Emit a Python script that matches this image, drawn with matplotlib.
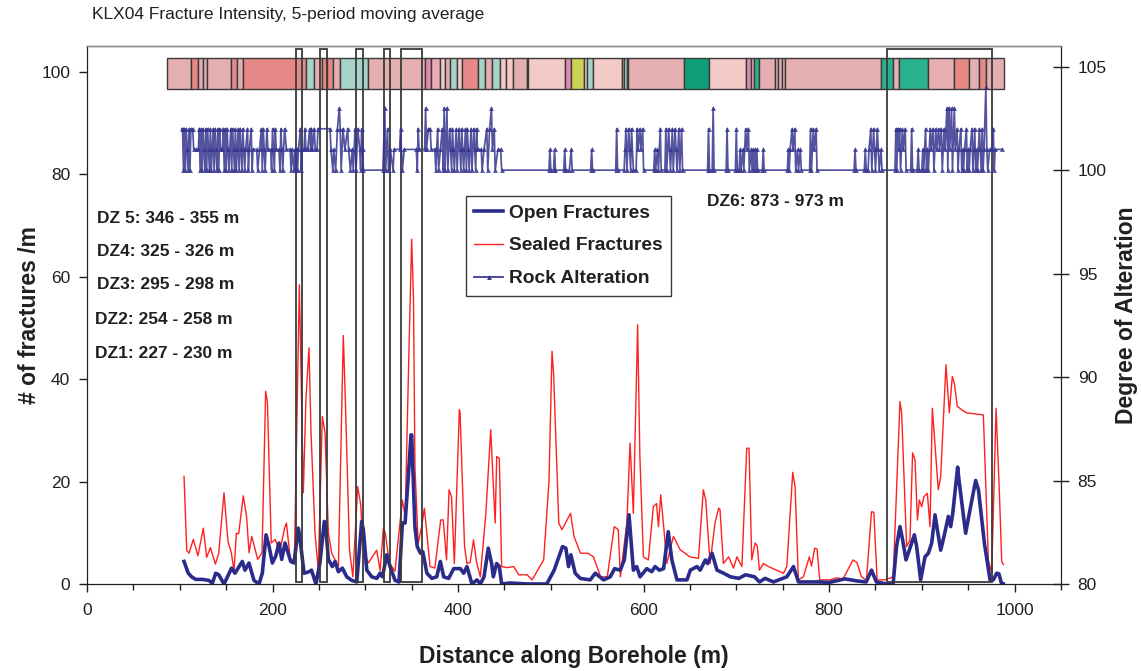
import numpy as np
import matplotlib
matplotlib.use("Agg")
import matplotlib.pyplot as plt
from matplotlib.patches import Rectangle
from matplotlib.lines import Line2D

plt.rcParams['font.family'] = ['Liberation Sans', 'DejaVu Sans']

# ---- data ----
open_depth = [104.6, 109.2, 112.8, 117.1, 124.3, 131.5, 135.1, 138.7, 142, 147.7, 155.9, 159.5, 167.4,
              170.3, 174.6, 180, 185.4, 189, 193, 196.2, 199.8, 203.4, 207, 209.9, 213.5, 216, 219.6,
              223.2, 227.8, 229.5, 234, 239.4, 242, 246.8, 251.1, 255.8, 257, 260.2, 264.5, 267.4, 271,
              275.3, 280, 285.4, 290.8, 296.1, 297.9, 301.6, 307, 312.4, 316, 318.5, 323.1, 326.7, 332.1,
              336.4, 340, 342.9, 346, 349.3, 350, 353.5, 356, 359.6, 362, 366.4, 371.8, 377, 380.9, 384.5,
              389.9, 395.3, 402.5, 406, 409.6, 415, 420.4, 424, 428, 432.6, 436.2, 438, 441.6, 444.5, 447,
              456, 474.1, 495.7, 503.6, 512.6, 516.2, 519.1, 521.6, 526.3, 531.7, 542.5, 547.9, 556.9,
              564.1, 568.8, 574.9, 579.2, 584.3, 589, 592.6, 596.2, 603.4, 608.8, 612.4, 617, 621.6, 626.6,
              630.5, 636, 646.8, 650.4, 657.6, 661, 666.6, 669, 673.8, 679.2, 686.4, 693.6, 702.6, 710,
              719.6, 725, 731, 740, 754.4, 761.6, 767, 790, 800, 817, 830, 840, 845.7, 851, 862, 869,
              872.7, 876.4, 879.3, 882.9, 885.4, 891.9, 894.4, 898.7, 903.4, 907, 910.6, 914.2, 916.7,
              920.3, 923.9, 928.6, 931.1, 933.3, 938.6, 940, 944, 947.2, 951.2, 958, 961, 967.4, 973.5,
              977, 980.7, 983, 986.1, 987.9]
open_frac = [4.4, 2.1, 1.4, 0.9, 0.9, 0.7, 0.1, 2.1, 1.8, 0.0, 3.1, 2.1, 4.4,
             2.7, 4.1, 0.7, 0.0, 2.1, 9.6, 7.4, 4.1, 5.4, 8.0, 4.8, 8.0, 6.5, 4.4,
             4.1, 10.9, 9.0, 2.1, 2.4, 2.7, 0.0, 4.1, 12.2, 12.0, 4.8, 3.4, 4.4, 2.4,
             3.1, 1.4, 0.7, 0.4, 12.2, 10.6, 2.7, 1.4, 1.1, 2.1, 1.4, 5.7, 3.4, 0.7,
             0.4, 11.9, 11.9, 20.0, 29.1, 29.1, 11.2, 7.3, 6.0, 6.3, 2.1, 1.1, 1.4, 4.4, 1.4,
             1.1, 3.0, 3.0, 2.1, 3.4, 0.0, 0.8, 0.0, 1.4, 7.0, 4.0, 1.4, 4.0, 3.4, 0.0,
             0.2, 0.0, 0.0, 2.7, 7.3, 7.0, 3.4, 5.7, 2.1, 1.1, 0.8, 2.1, 0.8,
             1.4, 3.0, 2.7, 4.7, 13.5, 2.7, 3.4, 1.4, 3.0, 2.4, 3.4, 2.7, 3.0, 10.2,
             4.7, 0.8, 0.8, 2.7, 3.4, 2.7, 4.7, 4.0, 6.0, 2.7, 2.1, 1.4, 1.1, 1.8,
             1.4, 0.4, 1.1, 0.4, 1.4, 3.4, 0.4, 0.4, 0.3, 1.0, 0.6, 0.4, 2.7, 0.4, 0.0, 0.0,
             7.3, 11.2, 8.6, 4.7, 6.0, 9.6, 7.3, 0.8, 5.3, 6.0, 8.0, 13.5, 10.6,
             6.6, 9.3, 13.2, 11.2, 13.8, 22.8, 20.3, 14.5, 9.9, 13.8, 20.2, 18.4, 8.0, 0.8,
             0.8, 2.1, 2.0, 0.0, 0.0]

sealed_depth = [104.6, 107.5, 110, 114.6, 119.6, 125.4, 129, 133, 138.4, 142, 147.7, 152, 155.6, 158.5,
                161, 163.5, 168.5, 172, 174.7, 177.6, 184, 188.7, 192.6, 194.5, 198.6, 203, 207.5, 213,
                215, 219.3, 223.6, 228.9, 233.2, 236, 239.3, 241.5, 245.8, 249.3, 253.7, 256.6, 260.2,
                263.8, 271, 276.3, 278.5, 283, 286.6, 291.8, 295, 297.9, 303.3, 312.3, 316, 319.5, 321.5,
                326, 332, 340, 343, 347, 350, 352, 353.5, 357, 360.8, 363.7, 366, 369.8, 375, 381.3, 384,
                387.6, 390.3, 393, 396, 401.4, 402.2, 407, 409.6, 413, 416.7, 420, 424, 430, 435.2, 440,
                441.7, 444.5, 447, 452.5, 460, 465.4, 474.4, 479.8, 492.3, 498, 501.3, 503, 508.6, 512,
                521.3, 525, 532, 540, 546, 553.7, 560.9, 568.4, 572.7, 575, 582, 585.4, 589, 593.6, 596,
                599.8, 605.2, 610.5, 614, 616, 618.5, 622, 625, 632.2, 639.4, 650, 659.2, 664.4, 667,
                671.7, 677, 680.9, 682.4, 686, 691.7, 697, 700.6, 706, 711.2, 713.7, 716.6, 720.2, 722.5,
                724.9, 729.2, 734.6, 742, 750.8, 754.4, 760.8, 763.3, 766.9, 772.3, 778.7, 781, 784.5,
                787, 789.9, 800.7, 808, 815, 825.8, 830, 834.9, 840.3, 845.7, 848.2, 851.8, 860, 869.1,
                876.4, 878.2, 883.6, 887.2, 890, 892.6, 895.2, 897.3, 899.8, 902.3, 905.9, 908.8, 911.3,
                917.7, 920.3, 926, 929.6, 932.8, 935, 938.2, 942.9, 948.3, 966.3, 971.7, 975.3, 980,
                983.6, 986.1, 987.9]
sealed_frac = [21.0, 6.6, 6.0, 8.7, 5.5, 10.9, 5.2, 7.1, 3.9, 6.0, 17.8, 8.3, 6.1, 2.6,
               9.9, 9.8, 17.2, 13.2, 6.1, 9.3, 4.8, 6.1, 37.6, 35.5, 8.0, 8.7, 6.1, 10.9,
               11.9, 4.6, 4.8, 58.4, 17.8, 36.0, 46.1, 29.5, 10.0, 2.7, 32.7, 29.5, 10.0,
               6.0, 3.4, 48.5, 36.0, 6.6, 1.4, 19.0, 15.6, 6.6, 4.1, 6.6, 2.6, 10.9, 10.0,
               4.1, 2.5, 16.4, 13.2, 45.0, 67.3, 55.5, 22.9, 7.9, 11.2, 14.8, 10.6, 3.4, 3.1, 12.5, 12.5,
               4.7, 18.4, 17.0, 4.0, 34.0, 33.4, 7.3, 4.0, 4.2, 8.6, 4.2, 1.4, 13.8, 30.1, 11.9,
               24.9, 24.5, 3.4, 3.2, 3.4, 1.8, 1.8, 0.8, 4.7, 20.0, 45.4, 41.1, 11.9, 10.6,
               13.8, 9.3, 6.0, 6.0, 5.3, 1.4, 1.4, 11.2, 10.6, 1.4, 12.0, 27.5, 13.8, 50.6, 25.0,
               5.3, 4.7, 15.1, 15.7, 11.2, 17.4, 10.6, 4.0, 9.3, 6.7, 5.3, 5.0, 18.4, 16.4,
               4.0, 11.9, 14.8, 14.5, 4.0, 5.3, 3.1, 5.3, 3.4, 26.5, 26.5, 4.7, 8.0, 7.5,
               2.7, 4.0, 3.4, 2.8, 2.1, 3.4, 21.8, 19.0, 0.8, 1.4, 5.3, 3.5, 7.0,
               6.8, 0.8, 0.8, 1.2, 1.0, 4.7, 4.2, 1.4, 0.8, 14.1, 14.0, 0.8, 0.8, 1.4,
               35.6, 33.4, 7.3, 8.6, 25.6, 24.2, 12.5, 16.4, 15.1, 17.1, 17.7, 11.2, 34.3,
               18.4, 21.0, 42.8, 33.4, 40.5, 39.2, 34.7, 34.0, 33.4, 33.0, 4.7, 2.1, 34.3,
               17.7, 4.4, 3.8]

# rock alteration (depth m, degree)
alteration = [
    (102, 102), (103, 102), (104, 100), (105, 102), (106, 100), (107, 102), (108, 101), (109, 100),
    (110, 102), (111, 100), (112, 102), (114, 102), (115, 101), (117, 101), (120, 101),
    (121, 102), (122, 100), (123, 102), (124, 100), (125, 102), (126, 101), (127, 100), (128, 102),
    (129, 100), (130, 102), (131, 101), (132, 100), (133, 102), (134, 100), (135, 101),
    (136, 102), (137, 100), (138, 102), (139, 101), (140, 100), (141, 102), (142, 100), (143, 102),
    (144, 101), (146, 101), (147, 102), (148, 100), (149, 102), (150, 100), (151, 102), (152, 101),
    (153, 100), (155, 102), (156, 100), (157, 102), (158, 101), (159, 100), (160, 102), (161, 100),
    (162, 101), (163, 102), (164, 100), (165, 102), (166, 101), (167, 100), (168, 102), (169, 101),
    (170, 100), (171, 101), (173, 102), (174, 100), (175, 101), (177, 102), (178, 100), (179, 101),
    (183, 101), (184, 100), (186, 101), (188, 102), (189, 100), (190, 102), (191, 101), (192, 100),
    (194, 102), (195, 101), (198, 101), (199, 100), (200, 102), (201, 101), (202, 100), (203, 102),
    (204, 101), (207, 101), (208, 100), (209, 102), (210, 101), (211, 100), (213, 102), (215, 101),
    (219, 101), (220, 100), (221, 101), (223, 100), (224, 101), (225, 100), (226, 101), (227, 100),
    (228, 101), (230, 102), (231, 100), (232, 101), (234, 101), (235, 102), (236, 101), (238, 101),
    (240, 102), (241, 101), (242, 102), (243, 101), (245, 102), (246, 101), (248, 101), (249, 102),
    (262, 102), (263, 101), (265, 100), (266, 101), (268, 100), (270, 102), (272, 103), (273, 102),
    (274, 100), (276, 102), (278, 101), (281, 102), (282, 101), (284, 100), (286, 101), (287, 100),
    (289, 102), (290, 100), (292, 102), (294, 101), (295, 100), (296, 102), (297, 101), (298, 100),
    (319, 100), (321, 103), (322, 100), (324, 102), (325, 100), (327, 101), (330, 100), (331, 101),
    (337, 101), (338, 102), (340, 100), (342, 101), (355, 101), (356, 100), (357, 102), (358, 101),
    (364, 101), (365, 103), (366, 101), (368, 102), (370, 102), (371, 101), (375, 101),
    (376, 100), (378, 102), (379, 100), (381, 101), (383, 102), (384, 100), (385, 103), (386, 100),
    (388, 103), (389, 100), (391, 102), (392, 101), (393, 100), (394, 102), (395, 101), (396, 100),
    (398, 102), (399, 100), (401, 102), (402, 101), (403, 100), (404, 102), (405, 101), (406, 100),
    (408, 102), (409, 100), (410, 102), (411, 101), (412, 100), (414, 102), (415, 100), (417, 102),
    (418, 101), (419, 100), (420, 102), (421, 101), (425, 101), (426, 100), (428, 101), (431, 102),
    (432, 100), (434, 102), (436, 103), (437, 101), (439, 102), (440, 100), (443, 101), (446, 101),
    (447, 100), (498, 100), (499, 101), (500, 100), (503, 100), (504, 101), (505, 100), (514, 100),
    (515, 101), (516, 100), (520, 100), (522, 101), (523, 100), (543, 100), (544, 101), (545, 100),
    (570, 100), (571, 102), (572, 100), (579, 100), (580, 101), (581, 102), (582, 100), (584, 102),
    (585, 101), (586, 100), (587, 102), (589, 100), (592, 100), (593, 102), (594, 101), (596, 102),
    (597, 101), (599, 102), (600, 100), (611, 100), (612, 101), (613, 100), (615, 101), (616, 100),
    (618, 102), (619, 100), (623, 100), (624, 102), (625, 100), (627, 102), (628, 101), (629, 100),
    (631, 102), (632, 100), (634, 102), (635, 101), (636, 100), (638, 102), (639, 100), (641, 102),
    (642, 100), (669, 100), (670, 102), (671, 100), (674, 100), (675, 103), (676, 100), (689, 100),
    (690, 102), (691, 100), (699, 100), (700, 102), (701, 100), (703, 100), (704, 101), (705, 100),
    (707, 101), (708, 100), (710, 102), (711, 101), (713, 102), (714, 100), (716, 101), (717, 100),
    (718, 101), (719, 100), (720, 101), (721, 100), (722, 101), (723, 100), (728, 100), (729, 101),
    (730, 100), (755, 100), (756, 101), (757, 100), (758, 101), (760, 102), (761, 101), (763, 102),
    (764, 100), (766, 101), (767, 100), (769, 101), (770, 100), (779, 100), (780, 102), (781, 100),
    (783, 102), (784, 101), (786, 102), (787, 100), (827, 100), (828, 101), (829, 100), (838, 100),
    (839, 101), (840, 100), (842, 100), (843, 101), (845, 102), (846, 100), (848, 102), (849, 101),
    (850, 100), (852, 102), (853, 101), (854, 100), (856, 101), (857, 100), (871, 100), (872, 102),
    (873, 100), (874, 102), (875, 101), (876, 102), (877, 100), (879, 102), (880, 101), (882, 102),
    (883, 100), (888, 100), (889, 102), (890, 100), (895, 100), (896, 101), (897, 100), (900, 100),
    (901, 101), (902, 100), (904, 102), (905, 100), (906, 101), (907, 100), (909, 102), (910, 101),
    (912, 102), (913, 100), (915, 102), (916, 101), (918, 102), (919, 101), (921, 102), (922, 100),
    (924, 102), (925, 101), (927, 103), (928, 100), (929, 103), (930, 101), (932, 103), (933, 100),
    (935, 103), (936, 101), (938, 102), (939, 100), (940, 101), (942, 102), (943, 100), (944, 101),
    (945, 100), (946, 101), (948, 102), (949, 100), (950, 101), (951, 100), (952, 101), (954, 102),
    (955, 100), (956, 101), (957, 102), (958, 100), (959, 101), (960, 100), (962, 102), (963, 101),
    (964, 100), (965, 102), (966, 100), (967, 101), (969, 104), (970, 101), (971, 100), (973, 101),
    (976, 101), (977, 102), (978, 100), (979, 101), (986, 101),
]

# rock type strip along the top
rock_bounds = [85.9, 112.1, 120.0, 125.4, 129.7, 155.2, 162.0, 168.5, 236.1, 245.0, 253.0, 258.4,
               264.9, 272.7, 303.3, 364.4, 370.8, 380.6, 386.0, 391.3, 398.6, 404.6, 421.8, 429.1,
               436.3, 445.2, 451.7, 459.6, 474.0, 475.8, 515.3, 521.5, 535.8, 539.4, 545.8, 576.4,
               578.9, 581.8, 583.6, 643.6, 670.9, 710.1, 715.5, 719.1, 724.8, 741.7, 745.3, 748.9,
               752.5, 855.7, 868.6, 875.4, 907.0, 935.0, 950.9, 961.9, 969.2, 988.9]
rock_type = "PSPPPSPSTPSSPTPMPVPTVSTPTVVPVVMYVTVPTPPGVMPEPPPPPEPEPSPSP"
rock_colors = {'P': '#E5AEB0', 'S': '#E68885', 'T': '#A6D2C7', 'V': '#F2CBC8',
               'M': '#E08BAE', 'Y': '#CCD155', 'G': '#0E9E7A', 'E': '#2AB28F'}

# deformation zones (drawn box extents)
dz_start = [225.0, 251.5, 290.0, 320.0, 338.0, 862.0]
dz_end = [232.0, 258.7, 297.8, 326.7, 360.7, 976.0]
dz_labels = ["DZ 5: 346 - 355 m", "DZ4: 325 - 326 m", "DZ3: 295 - 298 m",
             "DZ2: 254 - 258 m", "DZ1: 227 - 230 m"]
dz_label_y = [71.3, 64.8, 58.5, 51.6, 44.9]
dz_label_x = [10.5, 10.5, 10.5, 8.6, 8.6]
dz6_label = "DZ6: 873 - 973 m"
marker_depth = [231.3, 325.6]

NAVY = '#2B2B8C'
RED = '#FF2020'
ALT = '#35358F'
TXT = '#231F20'

alt_depth = [p[0] for p in alteration]
alt_value = [p[1] for p in alteration]

fig = plt.figure(figsize=(11.41, 6.71), dpi=100)
ax = fig.add_axes([87 / 1141, 87 / 671, 974 / 1141, 538 / 671])
ax2 = ax.twinx()

# rock strip
widths = np.diff(rock_bounds)
ax.bar(rock_bounds[:-1], 6.0, width=widths, bottom=96.6, align='edge',
       color=[rock_colors[c] for c in rock_type], edgecolor='#3a3a3a', linewidth=1.0, zorder=2)

ax.plot(sealed_depth, sealed_frac, color=RED, lw=1.0, zorder=3)
ax.plot(open_depth, open_frac, color=NAVY, lw=2.6, zorder=4)

for xm in marker_depth:
    ax.axvline(xm, color='#9CC8E6', lw=0.8, ls=':', zorder=3)
for s, e in zip(dz_start, dz_end):
    ax.add_patch(Rectangle((s, 0.3), e - s, 104.1, fill=False, edgecolor='#3a3a3a',
                           lw=1.3, zorder=5))

for lab, lx, ly in zip(dz_labels, dz_label_x, dz_label_y):
    ax.text(lx, ly, lab, fontsize=12.5, fontweight='bold', color=TXT, va='center', ha='left')
ax.text(668, 74.7, dz6_label, fontsize=12.5, fontweight='bold', color=TXT, va='center', ha='left')

ax2.plot(alt_depth, alt_value, color=ALT, lw=1.25, alpha=0.85, marker='^', ms=3.5,
         markeredgewidth=0, zorder=3)

ax.set_xlim(0, 1050)
ax.set_ylim(0, 105)
ax2.set_ylim(80, 106)
ax.set_xticks(np.arange(0, 1001, 200))
ax.set_xticks(np.arange(0, 1051, 50), minor=True)
ax.set_yticks(np.arange(0, 101, 20))
ax2.set_yticks(np.arange(80, 106, 5))
ax.tick_params(axis='x', which='major', direction='out', length=6, width=1, labelsize=12.5,
               colors=TXT, pad=8)
ax.tick_params(axis='x', which='minor', direction='out', length=4, width=1, colors=TXT)
ax.tick_params(axis='y', direction='out', length=6, width=1, labelsize=12.5, colors=TXT, pad=6)
ax2.tick_params(axis='y', direction='inout', length=12, width=1, labelsize=12.5, colors=TXT, pad=6)

for a in (ax, ax2):
    a.spines['top'].set_color('#8a8a8a')
    a.spines['top'].set_linewidth(1.0)
    a.spines['left'].set_color(TXT)
    a.spines['bottom'].set_color(TXT)
    a.spines['right'].set_color(TXT)

ax.set_xlabel("Distance along Borehole (m)", fontsize=16.5, fontweight='bold', color=TXT, labelpad=19)
ax.set_ylabel("# of fractures /m", fontsize=16.5, fontweight='bold', color=TXT, labelpad=0)
ax2.set_ylabel("Degree of Alteration", fontsize=16.5, fontweight='bold', color=TXT, labelpad=6)

fig.text(92 / 1141, 1 - 15 / 671, "KLX04 Fracture Intensity, 5-period moving average",
         fontsize=12.5, color=TXT, va='center', ha='left')

handles = [Line2D([], [], color=NAVY, lw=2.6),
           Line2D([], [], color=RED, lw=1.0),
           Line2D([], [], color=ALT, lw=1.25, marker='^', ms=3.5, markeredgewidth=0)]
leg = ax2.legend(handles, ["Open Fractures", "Sealed Fractures", "Rock Alteration"],
                 loc='upper left', bbox_to_anchor=(465.7 / 1141, 1 - 195.7 / 671),
                 bbox_transform=fig.transFigure, borderaxespad=0, fancybox=False,
                 framealpha=1, edgecolor='#3a3a3a', prop={'weight': 'bold', 'size': 13.8},
                 handlelength=1.5, handletextpad=0.3, labelspacing=0.8, borderpad=0.45)
leg.get_frame().set_linewidth(1.0)
for t in leg.get_texts():
    t.set_color(TXT)

fig.savefig("out.png", dpi=100)
